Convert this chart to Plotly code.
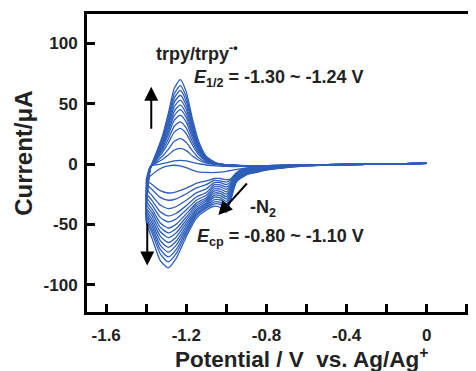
import plotly.graph_objects as go

# Potential grids (V vs. Ag/Ag+)
E_fwd = [0.0, -0.2, -0.4, -0.6, -0.7, -0.8, -0.85, -0.9, -0.95, -0.98, -1.0, -1.03, -1.06,
         -1.1, -1.15, -1.2, -1.25, -1.29, -1.33, -1.37, -1.4]
E_rev = [-1.38, -1.35, -1.32, -1.29, -1.26, -1.23, -1.2, -1.17, -1.14, -1.1, -1.05, -1.0,
         -0.9, -0.8, -0.6, -0.4, -0.2, 0.0]

# Current (uA), cathodic sweep (0 -> -1.4 V) for each cycle
f01 = [0.5, 0, -0.4, -0.8, -1.0, -1.5, -2.2, -3.5, -7.0, -12.5, -13, -12, -12, -14, -16, -20, -23, -24, -22, -17, -13]
f02 = [0.5, 0, -0.4, -0.9, -1.2, -1.8, -2.6, -3.9, -7.6, -13.5, -15, -14, -13.5, -17, -19.8, -24.6, -28.8, -30, -27.6, -21.3, -16]
f03 = [0.5, 0, -0.4, -0.9, -1.3, -2.0, -2.9, -4.3, -8.2, -15, -17, -15.5, -15.5, -20.6, -23.9, -30, -35.2, -37, -34, -26.3, -20]
f04 = [0.5, 0, -0.4, -1.0, -1.5, -2.3, -3.3, -4.8, -8.8, -16.5, -19, -17.3, -17, -23.6, -27.3, -34.4, -40.8, -43, -39.6, -30.5, -24]
f05 = [0.5, 0, -0.4, -1.0, -1.6, -2.6, -3.7, -5.2, -9.4, -18, -21, -19, -18.8, -25.8, -30, -37.9, -45.4, -48, -44.2, -34.1, -27]
f06 = [0.5, 0, -0.4, -1.1, -1.8, -2.9, -4.1, -5.6, -10, -19.5, -23, -20.8, -20.5, -27.9, -32.4, -41.3, -49.8, -53, -48.8, -37.6, -30]
f07 = [0.5, 0, -0.4, -1.1, -1.9, -3.1, -4.4, -6.0, -10.6, -21, -25, -22.6, -22.3, -29.4, -34.2, -43.9, -53.4, -57, -52.4, -40.5, -33]
f08 = [0.5, 0, -0.4, -1.2, -2.1, -3.4, -4.8, -6.4, -11.2, -22.5, -27, -24.4, -24, -30.7, -35.9, -46.4, -56.9, -61, -56.1, -43.3, -36]
f09 = [0.5, 0, -0.4, -1.2, -2.2, -3.7, -5.2, -6.9, -11.8, -24, -29, -26.2, -25.7, -32.1, -37.6, -48.8, -60.4, -65, -59.8, -46.2, -38]
f10 = [0.5, 0, -0.4, -1.3, -2.4, -3.9, -5.5, -7.3, -12.4, -25.5, -31, -28, -27.5, -33.3, -39.1, -51.1, -63.8, -69, -63.5, -49, -40]
f11 = [0.5, 0, -0.4, -1.3, -2.5, -4.2, -5.9, -7.7, -13, -27, -33, -29.8, -29.5, -34.5, -40.5, -53.3, -67.2, -73, -67.2, -51.8, -42]
f12 = [0.5, 0, -0.4, -1.4, -2.7, -4.5, -6.3, -8.1, -13.6, -28.5, -35, -31.7, -31.3, -35.6, -41.8, -55.4, -70.7, -77, -70.8, -54.7, -44]
f13 = [0.5, 0, -0.4, -1.4, -2.8, -4.7, -6.6, -8.5, -14.2, -30, -37, -33.5, -33, -36.5, -43.1, -57.5, -74, -81, -74.5, -57.5, -46]
f14 = [0.5, 0, -0.4, -1.5, -3.0, -5.0, -7.0, -9.0, -15, -31, -40, -36, -35, -38, -45, -60, -78, -86, -80, -62, -48]

# Current (uA), anodic sweep (-1.4 -> 0 V) for each cycle
r01 = [-10, -6, -3, -1.5, -1, -1.5, -3, -5, -6.5, -7, -7, -6, -3.2, -2, -1, -0.3, 0.2, 0.5]
r02 = [-2.2, -0.6, 0.3, 1.4, 2.6, 3, 2.6, 1.4, 0.4, -0.8, -1.5, -2, -2, -1.8, -1, -0.3, 0.2, 0.5]
r03 = [-2.4, 1, 3.7, 7.4, 11.6, 13, 11.1, 6.8, 3.3, 0.7, -0.5, -1.2, -1.8, -1.7, -1, -0.3, 0.2, 0.5]
r04 = [-2.7, 2.1, 6.4, 12.2, 18.8, 21, 17.8, 11.1, 5.5, 1.5, -0.2, -1, -1.7, -1.6, -0.9, -0.3, 0.2, 0.5]
r05 = [-2.8, 3.4, 9.3, 17.4, 26.4, 29.5, 25.1, 15.8, 8, 2.4, 0, -0.9, -1.6, -1.6, -0.9, -0.3, 0.2, 0.5]
r06 = [-3, 4.2, 11.1, 20.7, 31.3, 35, 29.8, 18.7, 9.5, 2.9, 0.2, -0.8, -1.6, -1.5, -0.9, -0.3, 0.2, 0.5]
r07 = [-3.3, 5.1, 13, 24.1, 36.3, 40.5, 34.5, 21.7, 11.1, 3.5, 0.3, -0.8, -1.5, -1.5, -0.9, -0.3, 0.2, 0.5]
r08 = [-3.5, 5.6, 14.5, 26.8, 40.3, 45, 38.3, 24.2, 12.4, 3.9, 0.4, -0.8, -1.5, -1.5, -0.9, -0.3, 0.2, 0.5]
r09 = [-3.6, 6.2, 15.8, 29.1, 43.9, 49, 41.7, 26.3, 13.5, 4.3, 0.5, -0.7, -1.5, -1.4, -0.9, -0.3, 0.2, 0.5]
r10 = [-3.8, 6.8, 17.1, 31.5, 47.5, 53, 45.1, 28.5, 14.6, 4.6, 0.5, -0.7, -1.4, -1.4, -0.8, -0.3, 0.2, 0.5]
r11 = [-3.9, 7.3, 18.5, 34, 51.1, 57, 48.5, 30.6, 15.8, 5, 0.6, -0.7, -1.4, -1.4, -0.8, -0.3, 0.2, 0.5]
r12 = [-4.1, 7.9, 19.8, 36.3, 54.6, 61, 51.9, 32.8, 16.9, 5.4, 0.6, -0.7, -1.4, -1.3, -0.8, -0.3, 0.2, 0.5]
r13 = [-4.2, 8.5, 21.2, 38.8, 58.2, 65, 55.3, 35, 18, 5.8, 0.7, -0.7, -1.3, -1.3, -0.8, -0.3, 0.2, 0.5]
r14 = [-4.3, 9.3, 22.8, 41.8, 62.7, 70, 59.6, 37.7, 19.5, 6.3, 0.8, -0.7, -1.3, -1.3, -0.8, -0.3, 0.2, 0.5]

cycles = [(f01, r01), (f02, r02), (f03, r03), (f04, r04), (f05, r05), (f06, r06), (f07, r07),
          (f08, r08), (f09, r09), (f10, r10), (f11, r11), (f12, r12), (f13, r13), (f14, r14)]

x_tick_vals = [-1.6, -1.2, -0.8, -0.4, 0.0]
x_tick_text = ["-1.6", "-1.2", "-0.8", "-0.4", "0"]
x_minor_vals = [-1.4, -1.0, -0.6, -0.2, 0.2]
y_tick_vals = [-100, -50, 0, 50, 100]
y_tick_text = ["-100", "-50", "0", "50", "100"]

LINE = "#2E5EBA"
FONT = "Liberation Sans, Arial, sans-serif"
TXT = "#222222"

fig = go.Figure()
for f, r in cycles:
    fig.add_trace(go.Scatter(
        x=E_fwd + E_rev, y=f + r, mode="lines",
        line=dict(color=LINE, width=1.3, shape="spline", smoothing=0.6),
        showlegend=False, hoverinfo="skip"))

axis_common = dict(showgrid=False, zeroline=False, showline=True, linewidth=3, linecolor="black",
                   ticks="inside", ticklen=8, tickwidth=3, tickcolor="black",
                   tickfont=dict(family=FONT, size=17, color=TXT, weight="bold"))

fig.update_xaxes(range=[-1.6957, 0.2458], tickmode="array", tickvals=x_tick_vals, ticktext=x_tick_text,
                 mirror=True, ticklabelstandoff=6,
                 minor=dict(tickmode="array", tickvals=x_minor_vals, ticks="inside", ticklen=8,
                            tickwidth=3, tickcolor="black", showgrid=False),
                 **axis_common)
fig.update_yaxes(range=[-122.6, 124.3], tickmode="array", tickvals=y_tick_vals, ticktext=y_tick_text,
                 mirror=False, ticklabelstandoff=3, **axis_common)

afont = dict(family=FONT, size=18, color=TXT, weight="bold")
arrow = dict(xref="x", yref="y", axref="x", ayref="y", text="", showarrow=True,
             arrowhead=2, arrowsize=1.4, arrowwidth=2, arrowcolor="black")
annotations = [
    dict(x=-1.362, y=92, xref="x", yref="y", text="trpy/trpy<sup>-•</sup>", showarrow=False,
         xanchor="left", yanchor="middle", font=afont),
    dict(x=-1.172, y=71, xref="x", yref="y", text="<i>E</i><sub>1/2</sub> = -1.30 ~ -1.24 V",
         showarrow=False, xanchor="left", yanchor="middle", font=afont),
    dict(x=-0.89, y=-36.5, xref="x", yref="y", text="-N<sub>2</sub>", showarrow=False,
         xanchor="left", yanchor="middle", font=afont),
    dict(x=-1.158, y=-60.6, xref="x", yref="y", text="<i>E</i><sub>cp</sub> = -0.80 ~ -1.10 V",
         showarrow=False, xanchor="left", yanchor="middle", font=afont),
    dict(x=-1.375, y=64, ax=-1.375, ay=28, **arrow),
    dict(x=-1.395, y=-84, ax=-1.395, ay=-48, **arrow),
    dict(x=-1.040, y=-42.3, ax=-0.891, ay=-14.9, **arrow),
    dict(x=-0.162, y=0.534, xref="paper", yref="paper", text="Current/μA", showarrow=False,
         textangle=-90, xanchor="center", yanchor="middle",
         font=dict(family=FONT, size=24, color=TXT, weight="bold")),
    dict(x=0.552, y=-0.154, xref="paper", yref="paper", text="Potential / V  vs. Ag/Ag<sup>+</sup>",
         showarrow=False, xanchor="center", yanchor="middle",
         font=dict(family=FONT, size=22.5, color=TXT, weight="bold")),
]

fig.update_layout(width=468, height=363, margin=dict(l=78.5, r=0, t=6.2, b=59.2, autoexpand=False),
                  paper_bgcolor="white", plot_bgcolor="white", annotations=annotations)

fig.write_html("out.html")
